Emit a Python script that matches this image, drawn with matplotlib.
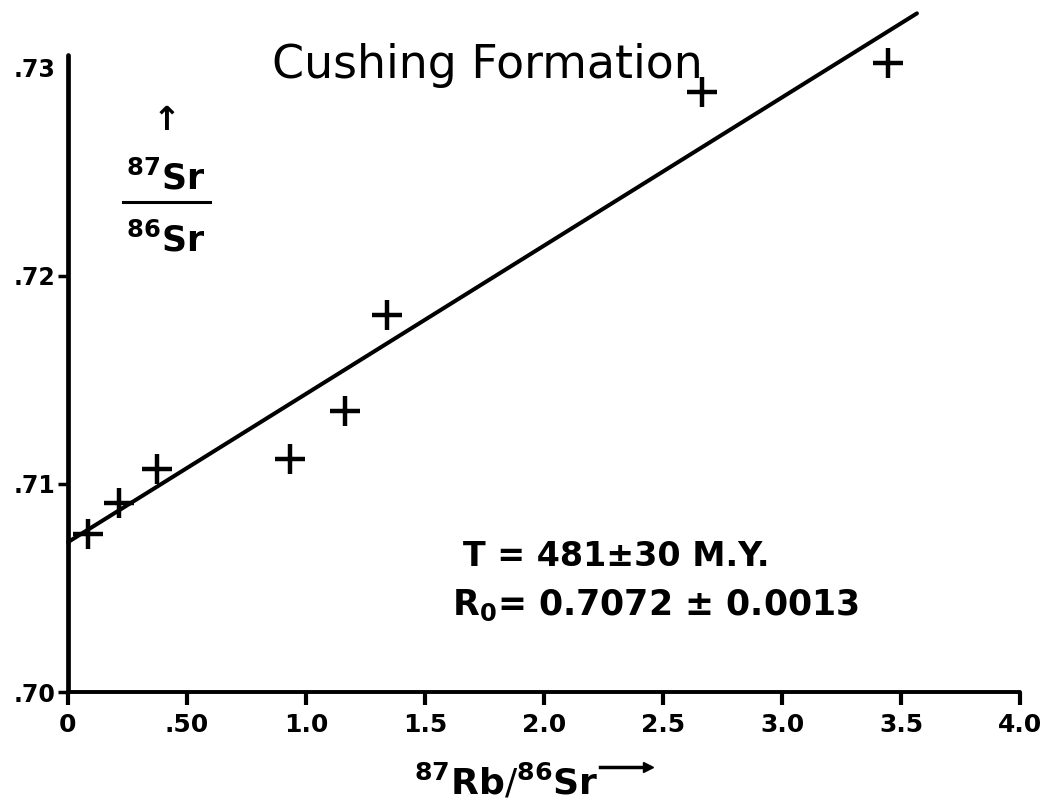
import matplotlib
matplotlib.use("Agg")
import matplotlib.pyplot as plt
from matplotlib.lines import Line2D

# Data
rb_sr = [0.084, 0.214, 0.374, 0.933, 1.164, 1.340, 2.664, 3.445]
sr_sr = [0.7076, 0.7091, 0.7107, 0.7112, 0.7135, 0.7181, 0.7288, 0.7302]
iso_x = [0.0, 3.567]
iso_y = [0.7072, 0.7326]

xticks = [0, 0.5, 1.0, 1.5, 2.0, 2.5, 3.0, 3.5, 4.0]
xtick_labels = ["0", ".50", "1.0", "1.5", "2.0", "2.5", "3.0", "3.5", "4.0"]
yticks = [0.70, 0.71, 0.72, 0.73]
ytick_labels = [".70", ".71", ".72", ".73"]

title = "Cushing Formation"
stats_line1 = "T = 481\u00b130 M.Y."
stats_line2 = "R$_\\mathbf{0}$= 0.7072 \u00b1 0.0013"

plt.rcParams['font.family'] = ['DejaVu Sans']
plt.rcParams['mathtext.fontset'] = 'dejavusans'

W, H = 1054, 809
fig = plt.figure(figsize=(W / 100, H / 100), dpi=100)
left, bottom = 68 / W, (H - 692) / H
width, height = (1020 - 68) / W, (692 - 55) / H
ax = fig.add_axes([left, bottom, width, height])
ax.set_xlim(0, 4.0)
ax.set_ylim(0.70, 0.7306)

for s in ["top", "right"]:
    ax.spines[s].set_visible(False)
ax.spines["left"].set_linewidth(3.4)
ax.spines["bottom"].set_linewidth(2.8)
ax.spines["left"].set_capstyle("round")
ax.spines["bottom"].set_capstyle("round")

ax.set_xticks(xticks)
ax.set_xticklabels(xtick_labels, fontsize=18, fontweight="bold")
ax.set_yticks(yticks)
ax.set_yticklabels(ytick_labels, fontsize=17, fontweight="bold")
ax.tick_params(axis="x", direction="out", length=9, width=3, pad=6)
ax.tick_params(axis="y", direction="out", length=7, width=2.5, pad=2)
ax.yaxis.get_major_ticks()[-1].tick1line.set_visible(False)

# isochron line and points
ax.plot(iso_x, iso_y, color="black", lw=2.9, solid_capstyle="round", clip_on=False, zorder=3)
ax.plot(rb_sr, sr_sr, linestyle="none", marker="+", markersize=21, markeredgewidth=3.2,
        color="black", clip_on=False, zorder=4)

# title
fig.text(487 / W, 1 - 65 / H, title, fontsize=33, ha="center", va="center")

# y label (fraction with arrow)
fig.text(167 / W, 1 - 121 / H, "\u2191", fontsize=24, fontweight="bold", ha="center", va="center")
fig.text(166 / W, 1 - 178 / H, r"$^{\mathbf{87}}$Sr", fontsize=25, fontweight="bold", ha="center", va="center")
fig.add_artist(Line2D([123 / W, 210 / W], [1 - 202 / H, 1 - 202 / H], color="black", lw=2.2,
                      transform=fig.transFigure))
fig.text(166 / W, 1 - 240 / H, r"$^{\mathbf{86}}$Sr", fontsize=25, fontweight="bold", ha="center", va="center")

# x label
fig.text(506 / W, 1 - 782 / H, r"$^{\mathbf{87}}$Rb$/^{\mathbf{86}}$Sr", fontsize=26, fontweight="bold",
         ha="center", va="center")
fig.add_artist(Line2D([600 / W, 648 / W], [1 - 767 / H, 1 - 767 / H], color="black", lw=2.5,
                      transform=fig.transFigure, marker=">", markevery=[1], markersize=7))

# stats text
fig.text(463 / W, 1 - 557 / H, stats_line1, fontsize=24, fontweight="bold", ha="left", va="center")
fig.text(452 / W, 1 - 605 / H, stats_line2, fontsize=25, fontweight="bold", ha="left", va="center")

fig.savefig("out.png", dpi=100)
